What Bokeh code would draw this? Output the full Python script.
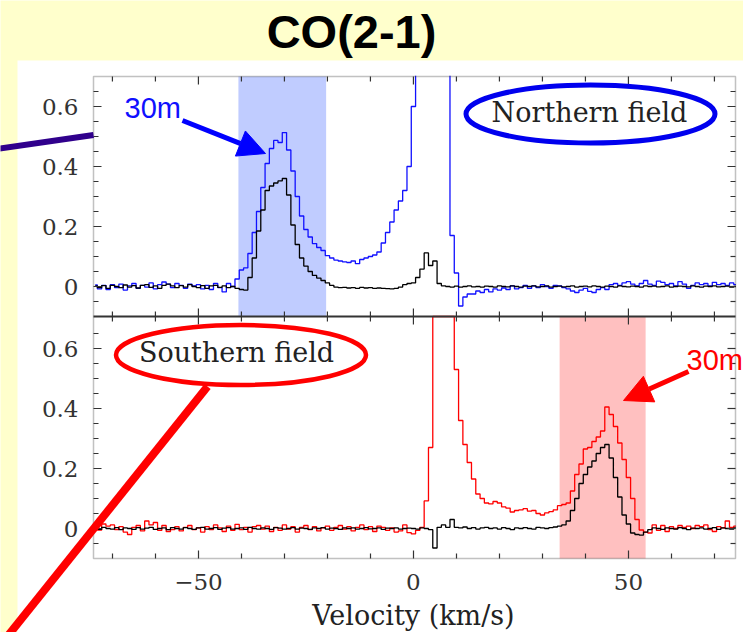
import numpy as np
from bokeh.plotting import figure
from bokeh.models import (Range1d, FixedTicker, CustomJSTickFormatter, Label, Arrow,
                          NormalHead, BoxAnnotation)
from bokeh.embed import file_html
from bokeh.resources import INLINE

# ---------------- data ----------------
velocity = list(range(-74, 76))  # channel centres, km/s

north_30m = [
    0.005, -0.008, 0.004, -0.010, 0.006, -0.004, 0.008, -0.012, 0.002, 0.010,
    -0.006, 0.004, -0.002, 0.012, -0.008, 0.006, 0.015, 0.008, -0.004, 0.010,
    0.004, -0.006, 0.008, 0.002, 0.006, -0.008, 0.004, -0.010, 0.010, -0.004,
    -0.018, 0.010, 0.000, 0.025, 0.055, 0.062, 0.110, 0.180, 0.250, 0.330,
    0.410, 0.460, 0.487, 0.480, 0.513, 0.455, 0.385, 0.300, 0.235, 0.190,
    0.165, 0.143, 0.130, 0.120, 0.103, 0.095, 0.088, 0.085, 0.082, 0.080,
    0.085, 0.076, 0.090, 0.095, 0.100, 0.105, 0.115, 0.145, 0.180, 0.215,
    0.255, 0.285, 0.320, 0.400, 0.600, 0.900, 1.200, 1.500, 1.800, 2.000,
    1.800, 1.500, 1.200, 0.170, 0.045, -0.065, -0.035, -0.025, -0.025, -0.015,
    -0.020, -0.010, -0.018, -0.008, -0.012, -0.005, -0.010, 0.002, -0.008, -0.004,
    0.004, -0.006, 0.002, -0.004, 0.006, 0.000, -0.006, 0.004, 0.002, -0.004,
    -0.008, -0.015, -0.020, -0.012, -0.006, -0.016, -0.020, -0.010, -0.004, -0.010,
    0.006, 0.010, 0.004, 0.012, 0.016, 0.008, 0.002, 0.010, 0.020, 0.008,
    0.004, 0.018, 0.014, 0.006, 0.010, 0.002, 0.016, 0.008, -0.006, 0.004,
    0.012, 0.006, 0.010, 0.002, 0.014, 0.006, 0.010, 0.004, 0.012, 0.006,
]

north_int = [
    0.002, -0.004, 0.003, -0.006, 0.004, 0.000, -0.004, 0.005, -0.002, 0.003,
    -0.005, 0.004, 0.006, -0.003, 0.002, -0.006, 0.004, 0.008, 0.002, -0.004,
    0.003, -0.002, 0.006, 0.000, -0.004, 0.003, -0.006, 0.002, 0.004, -0.003,
    0.002, -0.004, 0.000, -0.006, -0.010, -0.012, 0.030, 0.095, 0.185, 0.255,
    0.320, 0.335, 0.345, 0.352, 0.360, 0.305, 0.205, 0.140, 0.095, 0.068,
    0.050, 0.037, 0.028, 0.020, 0.012, 0.004, -0.002, -0.004, -0.003, -0.005,
    -0.004, -0.006, -0.003, -0.005, -0.004, -0.006, -0.005, -0.006, -0.007, -0.008,
    -0.006, -0.002, 0.006, 0.010, 0.012, 0.030, 0.058, 0.112, 0.070, 0.085,
    0.010, 0.002, 0.000, -0.002, 0.001, -0.002, 0.000, 0.002, -0.001, 0.000,
    -0.002, 0.001, 0.000, -0.002, 0.002, 0.000, -0.001, 0.002, 0.000, -0.002,
    0.001, 0.000, 0.002, -0.001, 0.000, 0.002, -0.002, 0.000, 0.001, -0.001,
    0.000, 0.002, -0.002, 0.000, 0.001, -0.001, 0.002, 0.000, -0.002, 0.001,
    0.000, -0.002, 0.002, 0.000, -0.001, 0.001, 0.000, -0.002, 0.002, 0.000,
    0.001, -0.001, 0.000, 0.002, -0.002, 0.000, 0.001, 0.000, -0.001, 0.002,
    0.000, -0.002, 0.001, 0.000, 0.002, -0.001, 0.000, 0.001, -0.002, 0.000,
]

south_30m = [
    0.010, -0.005, 0.015, 0.008, 0.012, -0.004, 0.006, -0.012, -0.020, 0.004,
    0.010, -0.008, 0.025, 0.012, 0.020, -0.006, 0.010, -0.010, -0.004, 0.006,
    -0.008, 0.004, 0.010, -0.004, 0.002, -0.012, 0.006, -0.004, 0.012, 0.002,
    -0.010, 0.008, -0.006, 0.014, -0.004, 0.004, -0.012, 0.006, 0.010, -0.002,
    0.008, -0.010, 0.004, -0.006, 0.012, -0.002, 0.006, -0.012, 0.004, 0.010,
    -0.004, 0.006, -0.008, 0.002, 0.008, -0.006, 0.004, 0.010, -0.002, 0.006,
    -0.008, 0.004, 0.012, -0.004, 0.006, -0.010, 0.008, 0.004, -0.006, 0.002,
    -0.012, -0.008, 0.012, -0.014, -0.018, -0.006, 0.004, 0.092, 0.270, 1.200,
    1.800, 2.000, 1.500, 1.000, 0.530, 0.360, 0.280, 0.220, 0.165, 0.115,
    0.100, 0.085, 0.082, 0.090, 0.085, 0.072, 0.068, 0.055, 0.060, 0.062,
    0.066, 0.058, 0.060, 0.050, 0.045, 0.052, 0.056, 0.062, 0.076, 0.080,
    0.085, 0.125, 0.180, 0.215, 0.265, 0.270, 0.290, 0.305, 0.325, 0.405,
    0.380, 0.340, 0.285, 0.230, 0.170, 0.100, 0.030, -0.005, -0.012, -0.015,
    0.012, -0.006, 0.010, -0.010, 0.006, 0.000, 0.010, 0.004, 0.008, 0.000,
    0.010, 0.006, 0.012, -0.004, -0.010, 0.006, 0.002, 0.025, 0.004, 0.008,
]

south_int = [
    0.002, -0.003, 0.004, 0.000, -0.002, 0.003, -0.004, 0.002, 0.000, -0.003,
    0.003, -0.002, 0.001, 0.004, -0.003, 0.000, 0.002, -0.004, 0.003, 0.000,
    -0.002, 0.003, 0.000, -0.003, 0.002, 0.004, -0.002, 0.000, 0.003, -0.003,
    0.001, 0.003, -0.002, 0.000, 0.002, -0.003, 0.004, 0.000, -0.002, 0.002,
    0.000, -0.003, 0.003, 0.001, -0.002, 0.000, 0.003, -0.002, 0.001, 0.000,
    -0.003, 0.002, 0.000, 0.003, -0.002, 0.001, 0.000, -0.003, 0.002, 0.000,
    0.002, -0.002, 0.000, 0.003, -0.001, 0.000, 0.002, -0.003, 0.001, 0.000,
    0.002, -0.002, 0.000, 0.001, 0.000, -0.002, 0.002, 0.000, -0.004, -0.065,
    0.004, 0.012, 0.004, 0.030, 0.004, 0.002, 0.005, 0.000, 0.003, -0.002,
    0.002, 0.004, 0.000, 0.002, -0.002, 0.003, 0.000, -0.004, 0.002, 0.000,
    0.003, 0.000, -0.002, 0.004, 0.002, 0.000, 0.003, 0.005, 0.008, 0.012,
    0.025, 0.060, 0.100, 0.150, 0.180, 0.205, 0.225, 0.250, 0.270, 0.280,
    0.235, 0.170, 0.105, 0.045, 0.015, -0.015, -0.020, -0.022, -0.012, -0.004,
    0.002, 0.000, -0.003, 0.002, 0.000, -0.002, 0.003, 0.000, -0.004, 0.001,
    0.000, 0.002, -0.002, 0.000, 0.003, -0.003, 0.002, 0.000, -0.002, 0.002,
]

north_window = [-40.7, -20.3]   # km/s, shaded integration window (north)
south_window = [34.0, 54.0]     # km/s, shaded integration window (south)

x_major = [-50, 0, 50]
x_minor = [-70, -60, -40, -30, -20, -10, 10, 20, 30, 40, 60, 70]
y_major = [0.0, 0.2, 0.4, 0.6]
y_minor = [-0.05, 0.05, 0.1, 0.15, 0.25, 0.3, 0.35, 0.45, 0.5, 0.55, 0.65]

# ---------------- layout ----------------
W, H = 743, 632
FL, FR, FT, FB = 93, 735, 76, 558       # plot-area edges in pixels
X0, X1 = -74.4, 74.9                    # velocity at plot-area left / right
PPU = 300.0                             # pixels per intensity unit
YB0 = -0.1                              # bottom-panel value at plot-area bottom
YB1 = YB0 + (FB - FT) / PPU
OFF = 242.0 / PPU                       # offset between the two panels
YDIV = YB0 + OFF                        # divider between panels


def sx(px):
    return X0 + (px - FL) * (X1 - X0) / (FR - FL)


def sy(py):
    return YB0 + (FB - py) / PPU


def xl(px):
    return px * (X1 - X0) / (FR - FL)


def yl(px):
    return px / PPU


FRAME = "#333333"

# the frame covers the whole canvas; the plot area is drawn inside it
p = figure(width=W, height=H, x_range=Range1d(sx(0), sx(W)), y_range=Range1d(sy(H), sy(0)),
           output_backend="svg", toolbar_location=None, title=None,
           min_border=0, min_border_left=0, min_border_right=0,
           min_border_top=0, min_border_bottom=0,
           background_fill_color="#FFFFCC", border_fill_color="#FFFFCC",
           outline_line_color=None)
p.extra_y_ranges = {"top": Range1d(sy(H) - OFF, sy(0) - OFF)}
p.grid.visible = False

# white sheet behind the chart
p.add_layout(BoxAnnotation(left=sx(17), right=sx(760), top=sy(60), bottom=sy(660),
                           fill_color="white", fill_alpha=1.0, line_color=None,
                           level="underlay"))

# axes pinned to the plot-area edges
xa = p.xaxis[0]
xa.fixed_location = YB0
xa.ticker = FixedTicker(ticks=x_major, minor_ticks=x_minor)
xa.formatter = CustomJSTickFormatter(code="return tick < 0 ? '\\u2212' + Math.abs(tick) : String(tick);")
ya = p.yaxis[0]
ya.fixed_location = X0
ya.ticker = FixedTicker(ticks=y_major + [v + OFF for v in y_major],
                        minor_ticks=y_minor + [v + OFF for v in y_minor])
ya.formatter = CustomJSTickFormatter(args=dict(off=OFF), code="""
const v = tick > 0.7 ? tick - off : tick;
const r = Math.round(v * 10) / 10;
return r === 0 ? '0' : r.toFixed(1);
""")
for ax in (xa, ya):
    ax.major_label_text_font = "DejaVu Serif"
    ax.major_label_text_font_size = "23px"
    ax.major_label_text_color = "#333333"
    ax.major_label_standoff = 15
    ax.major_tick_in = 8
    ax.major_tick_out = 0
    ax.minor_tick_in = 5
    ax.minor_tick_out = 0
    ax.axis_line_color = None
    ax.major_tick_line_color = FRAME
    ax.minor_tick_line_color = FRAME
    ax.major_tick_line_width = 1.2
    ax.minor_tick_line_width = 1.2

# shaded windows
p.quad(left=[north_window[0]], right=[north_window[1]], bottom=[-0.1], top=[0.7],
       y_range_name="top", fill_color="#C0CCFF", line_color=None)
p.quad(left=[south_window[0]], right=[south_window[1]], bottom=[YB0], top=[YDIV],
       fill_color="#FFC0C0", line_color=None)

# spectra (values above a panel's top are cut at / just beyond the panel edge)
p.step(velocity, np.clip(north_30m, None, 0.7 + yl(8)), mode="center", y_range_name="top",
       line_color="#1010FF", line_width=1.3)
p.step(velocity, north_int, mode="center", y_range_name="top", line_color="black", line_width=1.3)
p.step(velocity, np.clip(south_30m, None, YDIV), mode="center", line_color="#FF0000", line_width=1.3)
p.step(velocity, south_int, mode="center", line_color="black", line_width=1.3)

# divider between the panels (drawn over the cut red peak)
p.segment(x0=[X0], y0=[YDIV], x1=[X1], y1=[YDIV], line_color=FRAME, line_width=1.8)

# mirrored ticks: top edge, divider, right edge
xt = np.array(x_major + x_minor, dtype=float)
xlen = np.array([8] * len(x_major) + [5] * len(x_minor), dtype=float)
p.segment(x0=xt, y0=np.full_like(xt, YB1), x1=xt, y1=YB1 - yl(xlen), line_color=FRAME, line_width=1.2)
p.segment(x0=xt, y0=np.full_like(xt, YDIV), x1=xt, y1=YDIV + yl(xlen), line_color=FRAME, line_width=1.2)
p.segment(x0=xt, y0=np.full_like(xt, YDIV), x1=xt, y1=YDIV - yl(xlen), line_color=FRAME, line_width=1.2)
yt = np.array(y_major + [v + OFF for v in y_major] + y_minor + [v + OFF for v in y_minor], dtype=float)
ylen = np.array([8] * (2 * len(y_major)) + [5] * (2 * len(y_minor)), dtype=float)
p.segment(x0=np.full_like(yt, X1), y0=yt, x1=X1 - xl(ylen), y1=yt, line_color=FRAME, line_width=1.2)

# hide overhang outside the plot area, then draw the plot-area outline
p.add_layout(BoxAnnotation(left=X1 + xl(0.8), right=sx(760), bottom=YB0 - yl(3), top=YB1 + yl(3),
                           fill_color="white", fill_alpha=1.0, line_color=None))
p.add_layout(BoxAnnotation(left=X0 - xl(3), right=X1 + xl(3), bottom=YB1 + yl(0.8), top=YB1 + yl(14),
                           fill_color="white", fill_alpha=1.0, line_color=None))
p.add_layout(BoxAnnotation(left=X0, right=X1, bottom=YB0, top=YB1, fill_color=None,
                           line_color=FRAME, line_width=1.5))

# field ellipses
p.ellipse(x=[sx(590)], y=[sy(113.5)], width=[xl(249)], height=[yl(58)],
          fill_color=None, line_color="#0000EE", line_width=5)
p.ellipse(x=[sx(240.5)], y=[sy(354.5)], width=[xl(250)], height=[yl(60)],
          fill_color=None, line_color="#FF0000", line_width=4.5)

p.add_layout(Label(x=sx(589), y=sy(112), text="Northern field", text_font="DejaVu Serif",
                   text_font_size="27px", text_align="center", text_baseline="middle",
                   text_color="#222222"))
p.add_layout(Label(x=sx(236), y=sy(352), text="Southern field", text_font="DejaVu Serif",
                   text_font_size="27px", text_align="center", text_baseline="middle",
                   text_color="#222222"))

# pointer lines
p.add_layout(Arrow(end=None, x_start=sx(-2), y_start=sy(148.3), x_end=sx(93), y_end=sy(134.5),
                   line_color="#30008C", line_width=6))
p.add_layout(Arrow(end=None, x_start=sx(207), y_start=sy(386), x_end=sx(-2), y_end=sy(647),
                   line_color="#FF0000", line_width=8))

# 30m labels and arrows
p.add_layout(Arrow(end=NormalHead(size=27, fill_color="#0000FF", line_color="#0000FF"),
                   x_start=sx(182), y_start=sy(120), x_end=sx(265), y_end=sy(153),
                   line_color="#0000FF", line_width=5))
p.add_layout(Arrow(end=NormalHead(size=28, fill_color="#FF0000", line_color="#FF0000"),
                   x_start=sx(688), y_start=sy(371), x_end=sx(623), y_end=sy(400),
                   line_color="#FF0000", line_width=5))
p.add_layout(Label(x=sx(124), y=sy(107.5), text="30m", text_font="Liberation Sans",
                   text_font_size="29px", text_color="#1010FF", text_baseline="middle"))
p.add_layout(Label(x=sx(686), y=sy(359), text="30m", text_font="Liberation Sans",
                   text_font_size="29px", text_color="#FF0000", text_baseline="middle"))

# axis title and chart title
p.add_layout(Label(x=sx(413), y=sy(615), text="Velocity (km/s)", text_font="DejaVu Serif",
                   text_font_size="27px", text_align="center", text_baseline="middle",
                   text_color="#222222"))
p.add_layout(Label(x=sx(351), y=sy(31), text="CO(2-1)", text_font="Liberation Sans",
                   text_font_style="bold", text_font_size="47px", text_align="center",
                   text_baseline="middle", text_color="black"))

open("out.html", "w").write(file_html(p, INLINE))
